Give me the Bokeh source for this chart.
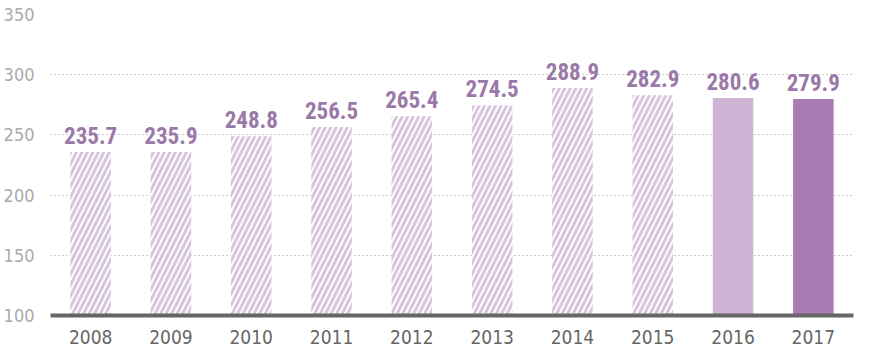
from bokeh.plotting import figure
from bokeh.models import ColumnDataSource, LabelSet, FixedTicker, Range1d
from bokeh.core.properties import value
from bokeh.embed import file_html
from bokeh.resources import INLINE

years = ["2008", "2009", "2010", "2011", "2012", "2013", "2014", "2015", "2016", "2017"]
values = [235.7, 235.9, 248.8, 256.5, 265.4, 274.5, 288.9, 282.9, 280.6, 279.9]
y_ticks = [100, 150, 200, 250, 300, 350]

AXFONT = "DejaVu Sans Condensed"
LABFONT = "Roboto Condensed"

p = figure(x_range=years, y_range=Range1d(100, 350), width=867, height=353,
           output_backend="svg", toolbar_location=None,
           min_border_left=41, min_border_right=14, min_border_top=14, min_border_bottom=38)
p.outline_line_color = None
p.x_range.range_padding = 0

hatched = ColumnDataSource(dict(x=years[:8], top=values[:8]))
p.vbar(x="x", top="top", bottom=100, width=0.505, source=hatched,
       fill_color="white", line_color=None,
       hatch_pattern="/", hatch_color="#d6c5dd", hatch_weight=3, hatch_scale=11)
p.vbar(x=[years[8]], top=[values[8]], bottom=100, width=0.505,
       fill_color="#cdb4d5", line_color=None)
p.vbar(x=[years[9]], top=[values[9]], bottom=100, width=0.505,
       fill_color="#a97db4", line_color=None)

lab = ColumnDataSource(dict(x=years, y=values, t=[f"{v:.1f}" for v in values]))
p.add_layout(LabelSet(x="x", y="y", text="t", source=lab, text_align="center",
                      text_baseline="alphabetic", y_offset=8,
                      text_font=value(LABFONT), text_font_style="bold",
                      text_font_size="23px", text_color="#9a79a8"))

p.xgrid.grid_line_color = None
p.ygrid.grid_line_color = "#999999"
p.ygrid.grid_line_dash = "1 3"
p.ygrid.grid_line_width = 1
p.yaxis.ticker = FixedTicker(ticks=y_ticks)
p.ygrid.ticker = FixedTicker(ticks=y_ticks)

p.yaxis.axis_line_color = None
p.yaxis.major_tick_line_color = None
p.yaxis.minor_tick_line_color = None
p.yaxis.major_label_text_font = AXFONT
p.yaxis.major_label_text_font_size = "18px"
p.yaxis.major_label_text_color = "#aaaaaa"
p.yaxis.major_label_standoff = 10

p.xaxis.axis_line_color = "#666666"
p.xaxis.axis_line_width = 4
p.xaxis.major_tick_line_color = None
p.xaxis.minor_tick_line_color = None
p.xaxis.major_label_text_font = AXFONT
p.xaxis.major_label_text_font_size = "19px"
p.xaxis.major_label_text_color = "#666666"
p.xaxis.major_label_standoff = 8

open("out.html", "w").write(file_html(p, INLINE))
